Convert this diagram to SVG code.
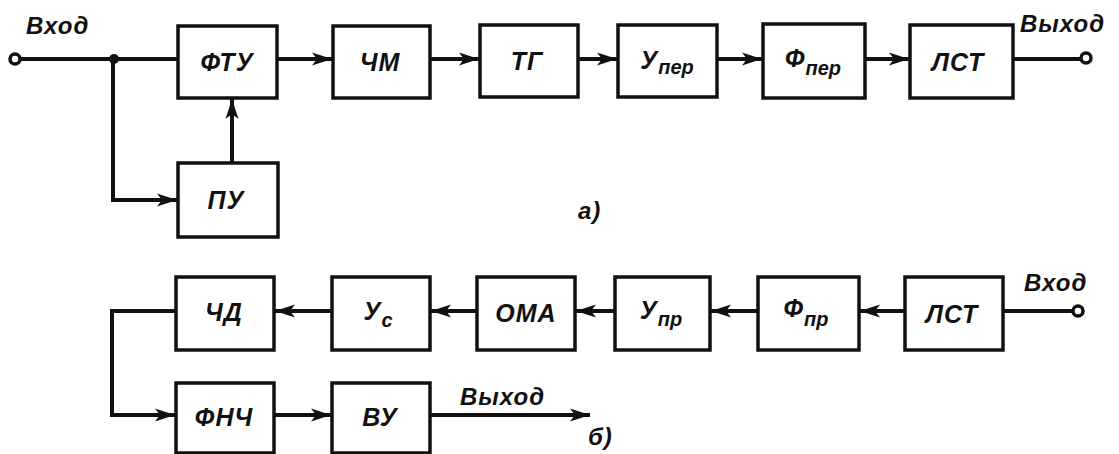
<svg xmlns="http://www.w3.org/2000/svg" width="1119" height="454" viewBox="0 0 1119 454">
<style>
.box{fill:#fff;stroke:#111;stroke-width:3.5}
.ln{fill:none;stroke:#111;stroke-width:4}
.t{font-family:"Liberation Sans",Arial,sans-serif;font-style:italic;font-weight:bold;font-size:25px;fill:#111;text-anchor:middle;letter-spacing:1px}
.s{font-size:20px;letter-spacing:0}
.lab{font-family:"Liberation Sans",Arial,sans-serif;font-style:italic;font-weight:bold;font-size:24px;fill:#111;letter-spacing:1px}
</style>
<defs>
<marker id="ah" markerUnits="userSpaceOnUse" markerWidth="24" markerHeight="16" refX="20" refY="8" orient="auto">
<path d="M0,1.5 L20,8 L0,14.5 L5,8 Z" fill="#111"/>
</marker>
</defs>
<rect width="1119" height="454" fill="#fff"/>
<g id="connectors">
<circle cx="15" cy="59" r="5" fill="#fff" stroke="#111" stroke-width="3.5"/>
<line class="ln" x1="20" y1="59" x2="178" y2="59"/>
<circle cx="114" cy="59" r="5" fill="#111"/>
<polyline class="ln" points="113,59 113,200 177,200" marker-end="url(#ah)"/>
<line class="ln" x1="232" y1="163" x2="232" y2="99" marker-end="url(#ah)"/>
<line class="ln" x1="277" y1="59" x2="332" y2="59" marker-end="url(#ah)"/>
<line class="ln" x1="430" y1="59" x2="479" y2="59" marker-end="url(#ah)"/>
<line class="ln" x1="578" y1="59" x2="617" y2="59" marker-end="url(#ah)"/>
<line class="ln" x1="717" y1="59" x2="762" y2="59" marker-end="url(#ah)"/>
<line class="ln" x1="865" y1="59" x2="909" y2="59" marker-end="url(#ah)"/>
<line class="ln" x1="1013" y1="59" x2="1081" y2="59"/>
<circle cx="1086" cy="58" r="5" fill="#fff" stroke="#111" stroke-width="3.5"/>

<line class="ln" x1="1003" y1="311" x2="1073" y2="311"/>
<circle cx="1078" cy="311" r="5" fill="#fff" stroke="#111" stroke-width="3.5"/>
<line class="ln" x1="905" y1="311" x2="860" y2="311" marker-end="url(#ah)"/>
<line class="ln" x1="758" y1="311" x2="711" y2="311" marker-end="url(#ah)"/>
<line class="ln" x1="615" y1="311" x2="576" y2="311" marker-end="url(#ah)"/>
<line class="ln" x1="477" y1="311" x2="431" y2="311" marker-end="url(#ah)"/>
<line class="ln" x1="332" y1="311" x2="275" y2="311" marker-end="url(#ah)"/>
<polyline class="ln" points="176,311 112,311 112,415 175,415" marker-end="url(#ah)"/>
<line class="ln" x1="274" y1="415" x2="331" y2="415" marker-end="url(#ah)"/>
<line class="ln" x1="430" y1="415" x2="590" y2="415" marker-end="url(#ah)"/>
</g>
<g id="n-fty"><rect class="box" x="178" y="26" width="99" height="72"/><text class="t" x="227" y="71">ФТУ</text></g>
<g id="n-py"><rect class="box" x="178" y="163" width="100" height="74"/><text class="t" x="226" y="209">ПУ</text></g>
<g id="n-chm"><rect class="box" x="333" y="26" width="97" height="72"/><text class="t" x="380" y="71">ЧМ</text></g>
<g id="n-tg"><rect class="box" x="480" y="25" width="98" height="72"/><text class="t" x="527" y="70">ТГ</text></g>
<g id="n-yper"><rect class="box" x="618" y="25" width="99" height="72"/><text class="t" x="667" y="69">У<tspan class="s" dy="5">пер</tspan></text></g>
<g id="n-fper"><rect class="box" x="763" y="24" width="102" height="74"/><text class="t" x="813" y="67">Ф<tspan class="s" dy="8">пер</tspan></text></g>
<g id="n-lst1"><rect class="box" x="910" y="25" width="103" height="73"/><text class="t" x="958" y="71">ЛСТ</text></g>
<text class="lab" x="26" y="34">Вход</text>
<text class="lab" x="1020" y="32">Выход</text>
<text class="lab" x="578" y="219">а)</text>

<g id="n-chd"><rect class="box" x="176" y="277" width="98" height="73"/><text class="t" x="224" y="321">ЧД</text></g>
<g id="n-yc"><rect class="box" x="332" y="277" width="98" height="73"/><text class="t" x="378" y="320">У<tspan class="s" dy="7">с</tspan></text></g>
<g id="n-oma"><rect class="box" x="477" y="277" width="98" height="73"/><text class="t" x="526" y="322">ОМА</text></g>
<g id="n-ypr"><rect class="box" x="615" y="277" width="95" height="73"/><text class="t" x="661" y="319">У<tspan class="s" dy="7">пр</tspan></text></g>
<g id="n-fpr"><rect class="box" x="758" y="277" width="101" height="73"/><text class="t" x="806" y="317">Ф<tspan class="s" dy="9">пр</tspan></text></g>
<g id="n-lst2"><rect class="box" x="905" y="277" width="98" height="73"/><text class="t" x="952" y="323">ЛСТ</text></g>
<g id="n-fnch"><rect class="box" x="176" y="383" width="98" height="70"/><text class="t" x="224" y="426">ФНЧ</text></g>
<g id="n-vy"><rect class="box" x="332" y="383" width="98" height="70"/><text class="t" x="380" y="426">ВУ</text></g>
<text class="lab" x="1024" y="291">Вход</text>
<text class="lab" x="460" y="405">Выход</text>
<text class="lab" x="588" y="445">б)</text>
</svg>
